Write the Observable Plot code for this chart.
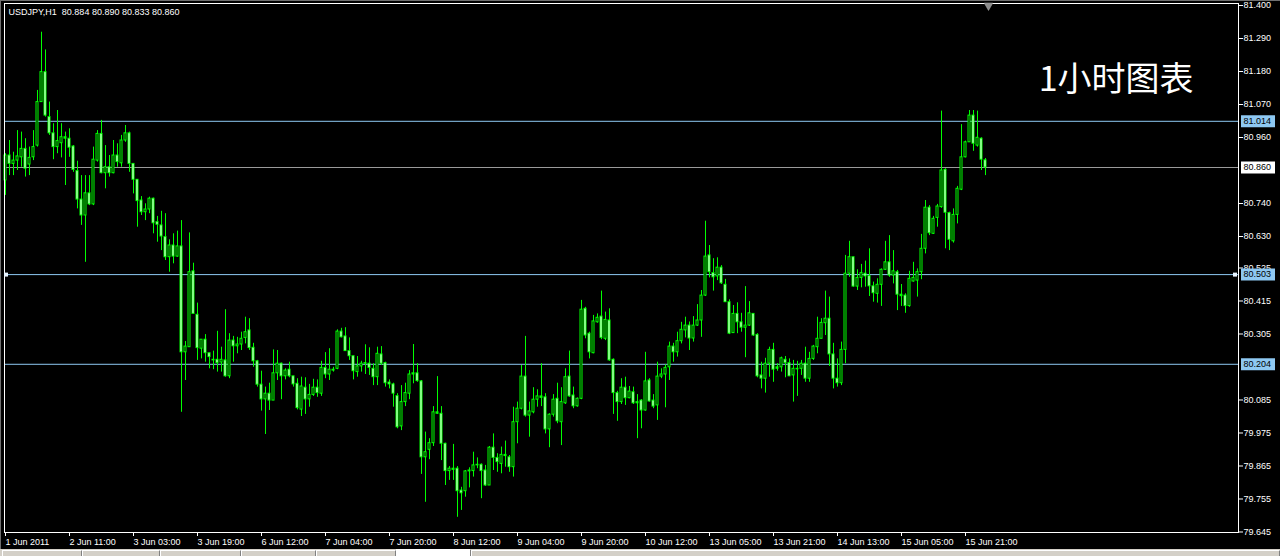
<!DOCTYPE html>
<html><head><meta charset="utf-8">
<script src="https://cdn.jsdelivr.net/npm/d3@7"></script>
<script src="https://cdn.jsdelivr.net/npm/@observablehq/plot@0.6"></script>
<style>
html,body{margin:0;padding:0;background:#000;overflow:hidden;}
#wrap{position:relative;width:1280px;height:556px;}
#chart svg{display:block;}
#tabs{position:absolute;left:0;top:549px;width:1280px;height:7px;background:#d4d0c8;}
.tab{position:absolute;top:1px;height:6px;border-left:1px solid #fff;border-top:1px solid #fff;border-right:1px solid #808080;box-sizing:border-box;}
#edgeL{position:absolute;left:0;top:0;width:1px;height:549px;background:#6e6e6e;}
#edgeT{position:absolute;left:0;top:0;width:1280px;height:1px;background:#6e6e6e;}
</style></head><body>
<div id="wrap"><div id="chart"></div>
<div id="tabs">
<div class="tab" style="left:2px;width:80px"></div>
<div class="tab" style="left:82px;width:78px"></div>
<div class="tab" style="left:160px;width:81px"></div>
<div class="tab" style="left:241px;width:75px"></div>
<div class="tab" style="left:316px;width:80px"></div>
<div class="tab" style="left:396px;width:75px;background:#fff;top:0;height:7px"></div>
<div class="tab" style="left:471px;width:809px"></div>
</div>
<div id="edgeL"></div><div id="edgeT"></div>
</div>
<script>
const symbolTitle = "USDJPY,H1  80.884 80.890 80.833 80.860";
const chartNote = "1小时图表";

const opens = [80.817,80.900,80.872,80.883,80.894,80.922,80.870,80.894,80.933,81.078,81.178,81.028,80.974,80.928,80.941,80.961,80.956,80.930,80.848,80.753,80.700,80.774,80.737,80.883,80.972,80.841,80.861,80.841,80.900,80.874,80.950,80.974,80.872,80.819,80.750,80.711,80.720,80.756,80.678,80.667,80.628,80.561,80.600,80.563,80.597,80.244,80.261,80.514,80.369,80.256,80.286,80.241,80.219,80.219,80.210,80.217,80.164,80.283,80.264,80.270,80.292,80.317,80.259,80.214,80.136,80.087,80.106,80.083,80.174,80.206,80.164,80.186,80.164,80.139,80.053,80.126,80.087,80.102,80.126,80.106,80.192,80.170,80.186,80.189,80.313,80.297,80.248,80.231,80.178,80.197,80.206,80.206,80.189,80.161,80.237,80.208,80.143,80.137,80.098,79.997,80.078,80.106,80.170,80.174,80.147,79.894,79.919,79.941,80.044,80.039,79.939,79.848,79.856,79.856,79.783,79.781,79.847,79.848,79.867,79.869,79.850,79.800,79.926,79.892,79.872,79.902,79.894,79.861,80.011,80.056,80.163,80.033,80.044,80.086,80.097,80.094,79.987,80.036,80.089,80.011,80.074,80.163,80.100,80.064,80.089,80.389,80.306,80.241,80.344,80.363,80.289,80.350,80.219,80.108,80.078,80.126,80.091,80.111,80.074,80.083,80.050,80.150,80.083,80.067,80.163,80.170,80.194,80.263,80.244,80.281,80.317,80.333,80.290,80.333,80.350,80.433,80.567,80.508,80.497,80.526,80.469,80.411,80.308,80.372,80.344,80.326,80.333,80.372,80.302,80.167,80.156,80.206,80.252,80.189,80.194,80.219,80.208,80.167,80.189,80.189,80.206,80.156,80.222,80.261,80.289,80.341,80.356,80.237,80.156,80.141,80.252,80.506,80.561,80.463,80.492,80.506,80.498,80.464,80.439,80.469,80.519,80.544,80.500,80.511,80.436,80.433,80.398,80.480,80.483,80.511,80.589,80.726,80.639,80.692,80.728,80.852,80.708,80.614,80.702,80.786,80.894,80.944,81.033,80.933,80.956,80.884];
const highs = [80.906,80.950,80.911,80.983,80.978,80.956,80.928,80.983,81.117,81.311,81.252,81.078,81.006,81.050,81.006,80.978,80.989,80.933,80.881,80.833,80.833,80.833,80.928,80.983,81.017,80.933,80.900,80.950,80.939,80.967,81.000,80.978,80.872,80.819,80.763,80.739,80.761,80.758,80.697,80.714,80.706,80.619,80.639,80.648,80.683,80.280,80.642,80.541,80.408,80.286,80.303,80.241,80.248,80.314,80.261,80.386,80.306,80.297,80.294,80.311,80.361,80.356,80.274,80.217,80.181,80.128,80.141,80.252,80.250,80.208,80.189,80.211,80.164,80.156,80.161,80.159,80.137,80.154,80.152,80.214,80.243,80.256,80.194,80.319,80.324,80.326,80.292,80.231,80.230,80.214,80.269,80.259,80.206,80.261,80.263,80.211,80.152,80.141,80.106,80.133,80.141,80.183,80.270,80.206,80.150,79.978,79.956,80.063,80.163,80.063,79.941,79.863,79.937,79.863,79.794,79.850,79.859,79.911,79.892,79.872,79.867,79.930,79.972,79.906,79.928,79.948,79.900,80.061,80.078,80.200,80.297,80.078,80.126,80.119,80.206,80.106,80.039,80.103,80.141,80.126,80.189,80.248,80.128,80.092,80.417,80.394,80.311,80.367,80.372,80.448,80.378,80.389,80.222,80.114,80.156,80.161,80.130,80.128,80.103,80.086,80.244,80.156,80.103,80.211,80.189,80.202,80.278,80.274,80.311,80.344,80.361,80.345,80.363,80.403,80.450,80.681,80.600,80.556,80.559,80.533,80.487,80.419,80.400,80.409,80.374,80.463,80.413,80.372,80.306,80.211,80.224,80.261,80.274,80.206,80.228,80.230,80.222,80.217,80.214,80.217,80.261,80.244,80.267,80.361,80.356,80.448,80.428,80.274,80.222,80.278,80.567,80.614,80.561,80.519,80.537,80.548,80.589,80.478,80.489,80.522,80.614,80.633,80.583,80.517,80.470,80.439,80.514,80.544,80.522,80.637,80.750,80.733,80.697,80.737,81.048,80.856,80.711,80.722,80.797,81.003,80.948,81.050,81.050,81.048,80.959,80.890];
const lows = [80.767,80.833,80.833,80.850,80.861,80.828,80.833,80.883,80.928,81.078,81.028,80.967,80.886,80.906,80.892,80.800,80.894,80.844,80.722,80.667,80.544,80.733,80.733,80.878,80.839,80.789,80.828,80.839,80.861,80.861,80.944,80.844,80.772,80.661,80.700,80.683,80.706,80.639,80.611,80.583,80.550,80.511,80.539,80.561,80.044,80.150,80.261,80.372,80.217,80.222,80.211,80.189,80.186,80.178,80.178,80.161,80.156,80.211,80.239,80.250,80.272,80.250,80.194,80.128,80.048,79.970,80.050,80.083,80.150,80.086,80.152,80.159,80.128,80.052,80.030,80.037,80.061,80.097,80.094,80.097,80.156,80.150,80.178,80.186,80.292,80.248,80.217,80.152,80.161,80.178,80.170,80.167,80.133,80.133,80.200,80.128,80.122,80.061,79.989,79.983,80.063,80.086,80.139,80.144,79.837,79.744,79.886,79.930,80.037,79.883,79.800,79.817,79.817,79.694,79.717,79.761,79.792,79.828,79.856,79.756,79.797,79.800,79.850,79.844,79.839,79.861,79.844,79.828,79.939,80.052,80.028,79.961,80.039,80.061,80.063,79.972,79.926,80.028,80.006,79.933,80.070,80.094,80.056,80.061,80.086,80.289,80.222,80.239,80.341,80.286,80.283,80.214,80.037,80.014,80.070,80.067,80.089,80.070,79.956,79.989,80.048,80.078,80.056,80.017,80.156,80.059,80.150,80.211,80.228,80.272,80.292,80.250,80.278,80.330,80.294,80.430,80.492,80.448,80.483,80.470,80.411,80.303,80.308,80.306,80.311,80.226,80.330,80.297,80.159,80.122,80.108,80.161,80.144,80.181,80.178,80.159,80.163,80.078,80.097,80.167,80.144,80.144,80.217,80.239,80.289,80.300,80.197,80.122,80.128,80.133,80.206,80.494,80.461,80.450,80.459,80.461,80.430,80.411,80.408,80.397,80.517,80.494,80.472,80.383,80.397,80.374,80.394,80.478,80.428,80.486,80.572,80.633,80.637,80.661,80.724,80.589,80.583,80.608,80.672,80.783,80.892,80.944,80.914,80.928,80.850,80.833];
const closes = [80.900,80.872,80.883,80.897,80.922,80.856,80.892,80.928,81.078,81.178,81.033,80.974,80.928,80.948,80.961,80.956,80.926,80.852,80.753,80.700,80.774,80.737,80.886,80.972,80.841,80.861,80.841,80.900,80.878,80.950,80.974,80.872,80.819,80.748,80.711,80.720,80.756,80.674,80.669,80.630,80.561,80.600,80.563,80.597,80.244,80.263,80.511,80.372,80.258,80.286,80.241,80.228,80.217,80.208,80.219,80.164,80.283,80.264,80.270,80.289,80.311,80.258,80.214,80.136,80.087,80.106,80.083,80.174,80.206,80.164,80.183,80.164,80.137,80.058,80.130,80.087,80.102,80.126,80.108,80.192,80.170,80.186,80.183,80.313,80.294,80.248,80.231,80.181,80.197,80.206,80.208,80.192,80.161,80.239,80.206,80.141,80.137,80.106,79.994,80.078,80.108,80.170,80.174,80.148,79.894,79.911,79.941,80.044,80.039,79.939,79.848,79.856,79.852,79.781,79.774,79.847,79.850,79.867,79.869,79.848,79.800,79.926,79.892,79.878,79.902,79.898,79.861,80.011,80.056,80.163,80.033,80.047,80.086,80.097,80.092,79.987,80.036,80.086,80.014,80.078,80.161,80.097,80.064,80.089,80.386,80.300,80.244,80.347,80.359,80.292,80.352,80.217,80.108,80.078,80.126,80.091,80.113,80.074,80.078,80.050,80.147,80.080,80.063,80.163,80.170,80.192,80.263,80.244,80.281,80.319,80.333,80.290,80.333,80.350,80.433,80.563,80.511,80.494,80.526,80.474,80.411,80.306,80.372,80.344,80.326,80.333,80.374,80.300,80.164,80.156,80.206,80.252,80.186,80.194,80.224,80.208,80.164,80.189,80.187,80.206,80.156,80.222,80.263,80.289,80.342,80.356,80.237,80.156,80.141,80.252,80.506,80.561,80.463,80.492,80.508,80.497,80.464,80.441,80.469,80.519,80.544,80.500,80.514,80.436,80.431,80.398,80.489,80.492,80.511,80.589,80.726,80.641,80.689,80.730,80.850,80.709,80.619,80.702,80.789,80.894,80.944,81.033,80.939,80.959,80.886,80.860];

const priceTicks = [81.400,81.290,81.180,81.070,80.960,80.740,80.630,80.525,80.415,80.305,80.085,79.975,79.865,79.755,79.645];
const timeTickIndex = [0,16,32,48,64,80,96,112,128,144,160,176,192,208,224,240];
const timeTickLabels = ["1 Jun 2011","2 Jun 11:00","3 Jun 03:00","3 Jun 19:00","6 Jun 12:00","7 Jun 04:00","7 Jun 20:00","8 Jun 12:00","9 Jun 04:00","9 Jun 20:00","10 Jun 12:00","13 Jun 05:00","13 Jun 21:00","14 Jun 13:00","15 Jun 05:00","15 Jun 21:00"];
const levelPrices = [81.014, 80.860, 80.503, 80.204];
const levelLineColors = ["#8ec8f2", "#9a9a9a", "#8ec8f2", "#8ec8f2"];
const levelBoxColors = ["#8ec8f2", "#ffffff", "#8ec8f2", "#8ec8f2"];

const candles = opens.map((o, i) => ({
  i, open: o, close: closes[i],
  high: Math.max(highs[i], o, closes[i]),
  low: Math.min(lows[i], o, closes[i])
}));
const levels = levelPrices.map((v, k) => ({value: v, line: levelLineColors[k], box: levelBoxColors[k]}));
const GREEN = "#00ff00";

const chart = Plot.plot({
  width: 1280, height: 549,
  marginLeft: 0, marginRight: 42, marginTop: 0, marginBottom: 17,
  style: {background: "#000", color: "#fff", fontFamily: "'Liberation Sans', Arial, sans-serif", fontSize: "9px"},
  x: {domain: [-1.25, 308.25], axis: null, label: null},
  y: {domain: [79.6433, 81.4167], axis: null, label: null},
  marks: [
    Plot.ruleY(levels, {y: "value", stroke: "line", insetLeft: 4}),
    Plot.ruleX(candles, {x: "i", y1: "low", y2: "high", stroke: GREEN}),
    Plot.rect(candles, {x1: d => d.i - 0.375, x2: d => d.i + 0.375,
      y1: d => Math.min(d.open, d.close), y2: d => Math.max(d.open, d.close),
      fill: GREEN, insetTop: -0.5, insetBottom: -0.5}),
    Plot.rect(candles.filter(d => Math.abs(d.open - d.close) > 0.006), {x1: d => d.i - 0.375, x2: d => d.i + 0.375,
      y1: d => Math.min(d.open, d.close), y2: d => Math.max(d.open, d.close),
      fill: d => d.close < d.open ? "#ffffff" : "#000000",
      insetTop: 0.5, insetBottom: 0.5, insetLeft: 1, insetRight: 1}),
    Plot.frame({stroke: "#fff", insetLeft: 4, insetTop: 3}),
    Plot.axisY(priceTicks, {anchor: "right", tickSize: 4, tickPadding: 1, label: null,
      tickFormat: d3.format(".3f"), stroke: "#fff", fill: "#fff"}),
    Plot.axisX(timeTickIndex, {anchor: "bottom", tickSize: 4, tickPadding: 2, label: null,
      tickFormat: v => timeTickLabels[timeTickIndex.indexOf(v)], textAnchor: "start", stroke: "#fff", fill: "#fff"}),
    Plot.ruleY(levels, {y: "value", stroke: "box", strokeWidth: 12, insetLeft: 1241, insetRight: -37}),
    Plot.text(levels, {y: "value", text: d => d.value.toFixed(3), frameAnchor: "right", dx: 5, textAnchor: "start", fill: "#000"}),
    Plot.ruleY([levelPrices[2]], {y: d => d, stroke: "#e8f4ff", strokeWidth: 4, insetLeft: 4, insetRight: 1230}),
    Plot.ruleY([levelPrices[2]], {y: d => d, stroke: "#e8f4ff", strokeWidth: 4, insetLeft: 1233, insetRight: 1}),
    Plot.dot([candles.length], {x: d => d - 0.25, frameAnchor: "top", dy: 5, symbol: "triangle", rotate: 180, r: 3.2, fill: "#8a8a8a", stroke: "#b0b0b0", strokeWidth: 0.5}),
    Plot.text([symbolTitle], {frameAnchor: "top-left", dx: 8, dy: 12, lineAnchor: "middle", textAnchor: "start", fill: "#fff"}),
    Plot.text([chartNote], {frameAnchor: "top-right", dx: -45, dy: 80, lineAnchor: "middle", textAnchor: "end",
      fontSize: 34, fontFamily: "'Noto Sans CJK SC', sans-serif", fill: "#fff"})
  ]
});
document.getElementById("chart").appendChild(chart);
</script>
</body></html>
